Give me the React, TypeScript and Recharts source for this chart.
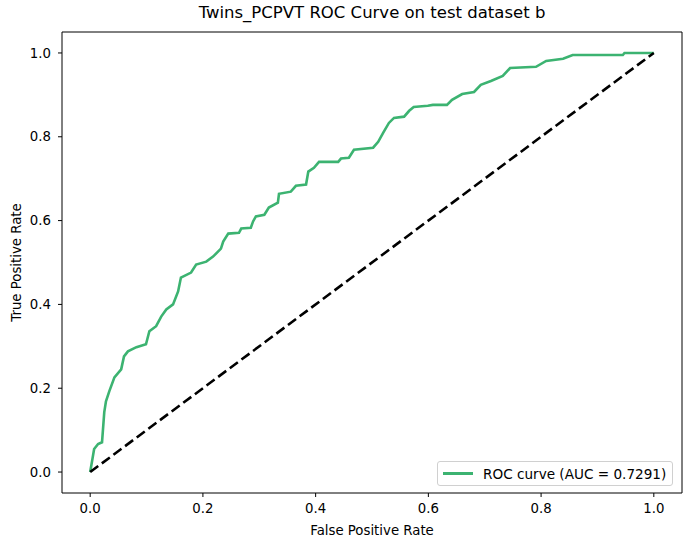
import React from "react";
import {
  LineChart,
  Line,
  XAxis,
  YAxis,
  ReferenceLine,
  ReferenceArea,
} from "recharts";

// ROC curve points
const fpr = [
  0, 0.004, 0.007, 0.014, 0.021, 0.025, 0.028, 0.034, 0.043, 0.055, 0.06, 0.067,
  0.082, 0.099, 0.105, 0.117, 0.126, 0.135, 0.147, 0.156, 0.161, 0.179, 0.188,
  0.206, 0.218, 0.232, 0.236, 0.245, 0.264, 0.268, 0.285, 0.289, 0.294, 0.309,
  0.317, 0.333, 0.335, 0.356, 0.365, 0.383, 0.387, 0.397, 0.406, 0.44, 0.445,
  0.459, 0.468, 0.502, 0.511, 0.52, 0.53, 0.539, 0.557, 0.566, 0.574, 0.599,
  0.608, 0.633, 0.642, 0.66, 0.681, 0.693, 0.711, 0.732, 0.745, 0.791, 0.809,
  0.839, 0.856, 0.945, 0.948, 1.0,
];
const tpr = [
  0, 0.031, 0.055, 0.067, 0.071, 0.143, 0.169, 0.193, 0.226, 0.245, 0.276,
  0.288, 0.298, 0.305, 0.336, 0.348, 0.371, 0.388, 0.4, 0.431, 0.464, 0.476,
  0.495, 0.502, 0.514, 0.533, 0.55, 0.569, 0.571, 0.581, 0.583, 0.598, 0.61,
  0.614, 0.631, 0.643, 0.664, 0.669, 0.683, 0.686, 0.717, 0.726, 0.74, 0.74,
  0.748, 0.75, 0.769, 0.774, 0.788, 0.81, 0.833, 0.845, 0.848, 0.862, 0.871,
  0.874, 0.876, 0.876, 0.888, 0.902, 0.907, 0.924, 0.933, 0.945, 0.964, 0.967,
  0.981, 0.986, 0.995, 0.995, 1.0, 1.0,
];
const ticks = [0, 0.2, 0.4, 0.6, 0.8, 1.0];
const aucLabel = "ROC curve (AUC = 0.7291)";
const title = "Twins_PCPVT ROC Curve on test dataset b";

const data = fpr.map((x, i) => ({ fpr: x, tpr: tpr[i] }));

const FONT = "'DejaVu Sans', sans-serif";
const FS = 13.3;

export default function App() {
  return (
    <div
      style={{
        position: "absolute",
        left: 0,
        top: 0,
        width: 691,
        height: 547,
        background: "#fff",
        fontFamily: FONT,
      }}
    >
      <div
        style={{
          position: "absolute",
          top: 3,
          left: 62,
          width: 620,
          textAlign: "center",
          fontSize: 16.5,
          color: "#000",
        }}
      >
        {title}
      </div>
      <LineChart
        width={691}
        height={547}
        data={data}
        margin={{ top: 32, right: 9, left: 12, bottom: 12 }}
      >
        <XAxis
          dataKey="fpr"
          type="number"
          domain={[-0.05, 1.05]}
          ticks={ticks}
          allowDataOverflow
          axisLine={false}
          tickLine={{ stroke: "#000" }}
          tickSize={4}
          tickMargin={7}
          height={42}
          tick={{ fill: "#000", fontSize: FS }}
          tickFormatter={(v: number) => v.toFixed(1)}
          label={{
            value: "False Positive Rate",
            position: "insideBottom",
            offset: 0,
            style: { fill: "#000", fontSize: FS },
          }}
        />
        <YAxis
          dataKey="tpr"
          type="number"
          domain={[-0.05, 1.05]}
          ticks={ticks}
          allowDataOverflow
          axisLine={false}
          tickLine={{ stroke: "#000" }}
          tickSize={4}
          tickMargin={7}
          width={50}
          tick={{ fill: "#000", fontSize: FS }}
          tickFormatter={(v: number) => v.toFixed(1)}
          label={{
            value: "True Positive Rate",
            angle: -90,
            position: "insideLeft",
            offset: 4,
            style: { fill: "#000", fontSize: FS, textAnchor: "middle" },
          }}
        />
        <ReferenceArea
          x1={-0.05}
          x2={1.05}
          y1={-0.05}
          y2={1.05}
          fill="none"
          fillOpacity={0}
          stroke="#000"
          strokeWidth={1}
          ifOverflow="visible"
        />
        <Line
          type="linear"
          dataKey="tpr"
          stroke="#3cb371"
          strokeWidth={2.6}
          dot={false}
          isAnimationActive={false}
        />
        <ReferenceLine
          segment={[
            { x: 0, y: 0 },
            { x: 1, y: 1 },
          ]}
          stroke="#000"
          strokeWidth={2.6}
          strokeDasharray="10 4.5"
          ifOverflow="visible"
        />
      </LineChart>
      <div
        style={{
          position: "absolute",
          left: 437,
          top: 461,
          width: 236,
          height: 25,
          border: "1px solid #d0d0d0",
          borderRadius: 3,
          background: "rgba(255,255,255,0.8)",
          display: "flex",
          alignItems: "center",
          fontSize: 13.6,
          color: "#000",
          boxSizing: "border-box",
          whiteSpace: "nowrap",
        }}
      >
        <div
          style={{
            width: 30,
            height: 3,
            background: "#3cb371",
            marginLeft: 5,
            marginRight: 10,
          }}
        />
        <span>{aucLabel}</span>
      </div>
    </div>
  );
}
